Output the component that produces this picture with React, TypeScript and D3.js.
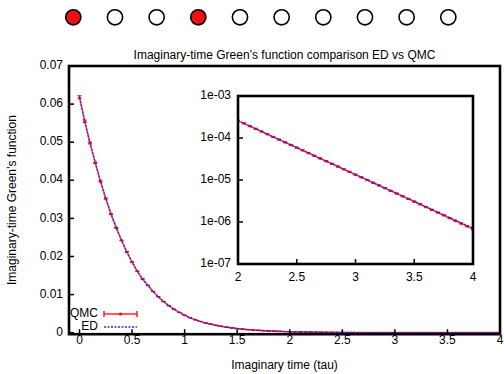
import React from 'react';
import * as d3 from 'd3';

// ---------- data ----------
const tau = [
  0, 0.05, 0.1, 0.15, 0.2, 0.25, 0.3, 0.35, 0.4, 0.45,
  0.5, 0.55, 0.6, 0.65, 0.7, 0.75, 0.8, 0.85, 0.9, 0.95,
  1, 1.05, 1.1, 1.15, 1.2, 1.25, 1.3, 1.35, 1.4, 1.45,
  1.5, 1.55, 1.6, 1.65, 1.7, 1.75, 1.8, 1.85, 1.9, 1.95,
  2, 2.05, 2.1, 2.15, 2.2, 2.25, 2.3, 2.35, 2.4, 2.45,
  2.5, 2.55, 2.6, 2.65, 2.7, 2.75, 2.8, 2.85, 2.9, 2.95,
  3, 3.05, 3.1, 3.15, 3.2, 3.25, 3.3, 3.35, 3.4, 3.45,
  3.5, 3.55, 3.6, 3.65, 3.7, 3.75, 3.8, 3.85, 3.9, 3.95, 4,
];

const qmcValues = [
  0.0618, 0.0555, 0.0498, 0.0446, 0.0397, 0.0352, 0.0311, 0.0275, 0.0242, 0.0212,
  0.0185, 0.0161, 0.0141, 0.0124, 0.0108, 0.00944, 0.00815, 0.00708, 0.00613, 0.00532,
  0.00456, 0.00394, 0.00341, 0.00295, 0.00256, 0.00222, 0.00192, 0.00166, 0.00144, 0.00125,
  0.00108, 0.000935, 0.00081, 0.000702, 0.000608, 0.000527, 0.000457, 0.000396, 0.000343, 0.000297,
  0.000258, 0.000223, 0.000192, 0.000166, 0.000143, 0.000123, 0.000106, 9.18e-5, 7.91e-5, 6.82e-5,
  5.89e-5, 5.08e-5, 4.38e-5, 3.78e-5, 3.26e-5, 2.81e-5, 2.43e-5, 2.09e-5, 1.8e-5, 1.56e-5,
  1.34e-5, 1.16e-5, 1.0e-5, 8.61e-6, 7.43e-6, 6.41e-6, 5.53e-6, 4.77e-6, 4.11e-6, 3.55e-6,
  3.06e-6, 2.64e-6, 2.27e-6, 1.95e-6, 1.68e-6, 1.45e-6, 1.24e-6, 1.07e-6, 9.2e-7, 7.9e-7, 6.75e-7,
];

const qmcErrors = [
  0.0004, 0.0003, 0.00025, 0.0002, 0.00018, 0.00015, 0.00013, 0.00012, 0.0001, 0.0001,
  0.00009, 0.00008, 0.00007, 0.00006, 0.00005, 0.00005, 0.00004, 0.00004, 0.00003, 0.00003,
  0.00003, 0.00002, 0.00002, 0.00002, 0.00002, 0.00002, 0.00001, 0.00001, 0.00001, 0.00001,
  0.00001, 0.00001, 0.00001, 0.00001, 0.00001, 0.00001, 0.00001, 0.00001, 0.00001, 0.00001,
  8e-6, 7e-6, 6e-6, 5e-6, 4.5e-6, 4e-6, 3.5e-6, 3e-6, 2.6e-6, 2.3e-6,
  2e-6, 1.7e-6, 1.5e-6, 1.3e-6, 1.1e-6, 9.5e-7, 8.2e-7, 7e-7, 6.1e-7, 5.3e-7,
  4.6e-7, 4e-7, 3.4e-7, 2.9e-7, 2.5e-7, 2.2e-7, 1.9e-7, 1.6e-7, 1.4e-7, 1.2e-7,
  1.05e-7, 9e-8, 7.8e-8, 6.7e-8, 5.8e-8, 5e-8, 4.3e-8, 3.7e-8, 3.2e-8, 2.8e-8, 2.4e-8,
];

const edValues = [
  0.0617, 0.0554, 0.0497, 0.0446, 0.0398, 0.0352, 0.0311, 0.0275, 0.0242, 0.0212,
  0.0185, 0.0161, 0.0141, 0.0124, 0.0108, 0.00944, 0.00815, 0.00708, 0.00613, 0.00532,
  0.00456, 0.00394, 0.00341, 0.00295, 0.00256, 0.00222, 0.00192, 0.00166, 0.00144, 0.00125,
  0.00108, 0.000935, 0.00081, 0.000702, 0.000608, 0.000527, 0.000457, 0.000396, 0.000343, 0.000297,
  0.000258, 0.000223, 0.000192, 0.000166, 0.000143, 0.000123, 0.000106, 9.18e-5, 7.91e-5, 6.82e-5,
  5.89e-5, 5.08e-5, 4.38e-5, 3.78e-5, 3.26e-5, 2.81e-5, 2.43e-5, 2.09e-5, 1.8e-5, 1.56e-5,
  1.34e-5, 1.16e-5, 1.0e-5, 8.62e-6, 7.45e-6, 6.43e-6, 5.55e-6, 4.8e-6, 4.14e-6, 3.58e-6,
  3.09e-6, 2.67e-6, 2.3e-6, 1.99e-6, 1.72e-6, 1.48e-6, 1.28e-6, 1.11e-6, 9.6e-7, 8.3e-7, 7.2e-7,
];

const mainXTicks = [0, 0.5, 1, 1.5, 2, 2.5, 3, 3.5, 4];
const mainXTickLabels = ['0', '0.5', '1', '1.5', '2', '2.5', '3', '3.5', '4'];
const mainYTicks = [0, 0.01, 0.02, 0.03, 0.04, 0.05, 0.06, 0.07];
const mainYTickLabels = ['0', '0.01', '0.02', '0.03', '0.04', '0.05', '0.06', '0.07'];
const insetXTicks = [2, 2.5, 3, 3.5, 4];
const insetXTickLabels = ['2', '2.5', '3', '3.5', '4'];
const insetYTicks = [1e-3, 1e-4, 1e-5, 1e-6, 1e-7];
const insetYTickLabels = ['1e-03', '1e-04', '1e-05', '1e-06', '1e-07'];

const pagerFilled = [true, false, false, true, false, false, false, false, false, false];

const titleText = 'Imaginary-time Green\u2019s function comparison ED vs QMC';
const xLabel = 'Imaginary time (tau)';
const yLabel = 'Imaginary-time Green\u2019s function';
const seriesNames = ['QMC', 'ED'];

// ---------- component ----------
const FONT = '"Liberation Sans", Arial, Helvetica, sans-serif';
const RED = '#ff2a2a';
const BLUE = '#2a2aff';

export default function App() {
  const W = 504, H = 374;
  const M = { left: 69, right: 500, top: 66, bottom: 334.2 };
  const x = d3.scaleLinear().domain([-0.1, 4]).range([M.left, M.right]);
  const y = d3.scaleLinear().domain([-0.0004, 0.07]).range([M.bottom, M.top]);

  const I = { left: 238, right: 473, top: 96, bottom: 264 };
  const xi = d3.scaleLinear().domain([2, 4]).range([I.left, I.right]);
  const yi = d3.scaleLog().domain([1e-7, 1e-3]).range([I.bottom, I.top]);

  const rows = tau.map((t, i) => ({ t, q: qmcValues[i], e: qmcErrors[i], d: edValues[i] }));
  const insetRows = rows.filter((r) => r.t >= 2 - 1e-9);

  const qLine = d3.line<any>().x((r) => x(r.t)).y((r) => y(r.q));
  const dLine = d3.line<any>().x((r) => x(r.t)).y((r) => y(r.d));
  const qLineI = d3.line<any>().x((r) => xi(r.t)).y((r) => yi(r.q));
  const dLineI = d3.line<any>().x((r) => xi(r.t)).y((r) => yi(r.d));

  const pager = d3.scalePoint<number>().domain(d3.range(pagerFilled.length)).range([73.3, 448.3]);

  const errBar = (cx: number, y1: number, y2: number, key: string) => (
    <g key={key} stroke="#ee0000" strokeWidth={1}>
      <line x1={cx} x2={cx} y1={y1} y2={y2} />
      <line x1={cx - 2} x2={cx + 2} y1={y1} y2={y1} />
      <line x1={cx - 2} x2={cx + 2} y1={y2} y2={y2} />
      <line x1={cx - 1.5} x2={cx + 1.5} y1={(y1 + y2) / 2} y2={(y1 + y2) / 2} />
    </g>
  );

  return (
    <svg width={W} height={H} style={{ position: 'absolute', left: 0, top: 0, background: '#fff' }}
      fontFamily={FONT}>
      <defs>
        <clipPath id="mainClip">
          <rect x={M.left} y={M.top} width={M.right - M.left} height={M.bottom - M.top} />
        </clipPath>
        <clipPath id="insetClip">
          <rect x={I.left} y={I.top} width={I.right - I.left} height={I.bottom - I.top} />
        </clipPath>
      </defs>
      <rect x={0} y={0} width={W} height={H} fill="#fff" />

      {/* pager circles */}
      {pagerFilled.map((f, i) => (
        <circle key={i} cx={pager(i)} cy={17.3} r={7.6} fill={f ? '#ee1111' : '#fff'} stroke="#000" strokeWidth={1.6} />
      ))}

      {/* title */}
      <text x={(M.left + M.right) / 2} y={56} textAnchor="middle" dominantBaseline="middle" fontSize={12}>{titleText}</text>

      {/* main data */}
      <g clipPath="url(#mainClip)">
        <path d={qLine(rows) || ''} fill="none" stroke={RED} strokeWidth={1.6} opacity={0.85} />
        {rows.map((r, i) => errBar(x(r.t), y(r.q + r.e), y(r.q - r.e), 'm' + i))}
        <path d={dLine(rows) || ''} fill="none" stroke={BLUE} strokeWidth={1.3} strokeDasharray="2,1.5" />
      </g>

      {/* main axes ticks */}
      {mainXTicks.map((t, i) => (
        <g key={'xt' + i}>
          <line x1={x(t)} x2={x(t)} y1={M.bottom} y2={M.bottom - 5} stroke="#000" strokeWidth={1.5} />
          <text x={x(t)} y={341} textAnchor="middle" dominantBaseline="middle" fontSize={12}>{mainXTickLabels[i]}</text>
        </g>
      ))}
      {mainYTicks.map((t, i) => (
        <g key={'yt' + i}>
          <line x1={M.left} x2={M.left + 5} y1={y(t)} y2={y(t)} stroke="#000" strokeWidth={1.5} />
          <text x={63} y={y(t)} textAnchor="end" dominantBaseline="middle" fontSize={12}>{mainYTickLabels[i]}</text>
        </g>
      ))}
      <rect x={M.left} y={M.top} width={M.right - M.left} height={M.bottom - M.top} fill="none" stroke="#000" strokeWidth={2.6} />

      {/* axis labels */}
      <text x={(M.left + M.right) / 2} y={366} textAnchor="middle" dominantBaseline="middle" fontSize={12}>{xLabel}</text>
      <text transform={`translate(13,${(M.top + M.bottom) / 2}) rotate(-90)`} textAnchor="middle" dominantBaseline="middle" fontSize={12}>{yLabel}</text>

      {/* legend */}
      <text x={98} y={314} textAnchor="end" dominantBaseline="middle" fontSize={12}>{seriesNames[0]}</text>
      <g stroke={RED} strokeWidth={1.6}>
        <line x1={104} x2={137} y1={314} y2={314} />
        <line x1={104} x2={104} y1={311} y2={317} />
        <line x1={137} x2={137} y1={311} y2={317} />
      </g>
      <circle cx={120.5} cy={314} r={1.5} fill="#ee0000" />
      <text x={98} y={327} textAnchor="end" dominantBaseline="middle" fontSize={12}>{seriesNames[1]}</text>
      <line x1={104} x2={137} y1={327} y2={327} stroke={BLUE} strokeWidth={1.3} strokeDasharray="2,1.5" />

      {/* inset */}
      <rect x={I.left} y={I.top} width={I.right - I.left} height={I.bottom - I.top} fill="#fff" />
      <g clipPath="url(#insetClip)">
        <path d={qLineI(insetRows) || ''} fill="none" stroke={RED} strokeWidth={1.6} opacity={0.85} />
        {insetRows.map((r, i) => errBar(xi(r.t), yi(r.q + r.e), yi(Math.max(r.q - r.e, 1e-9)), 'i' + i))}
        <path d={dLineI(insetRows) || ''} fill="none" stroke={BLUE} strokeWidth={1.3} strokeDasharray="2,1.5" />
      </g>
      {insetXTicks.map((t, i) => (
        <g key={'ixt' + i}>
          <line x1={xi(t)} x2={xi(t)} y1={I.bottom} y2={I.bottom - 5} stroke="#000" strokeWidth={1.5} />
          <text x={xi(t)} y={277.5} textAnchor="middle" dominantBaseline="middle" fontSize={12}>{insetXTickLabels[i]}</text>
        </g>
      ))}
      {insetYTicks.map((t, i) => (
        <g key={'iyt' + i}>
          <line x1={I.left} x2={I.left + 5} y1={yi(t)} y2={yi(t)} stroke="#000" strokeWidth={1.5} />
          <text x={231} y={yi(t)} textAnchor="end" dominantBaseline="middle" fontSize={12}>{insetYTickLabels[i]}</text>
        </g>
      ))}
      <rect x={I.left} y={I.top} width={I.right - I.left} height={I.bottom - I.top} fill="none" stroke="#000" strokeWidth={2.6} />
    </svg>
  );
}
